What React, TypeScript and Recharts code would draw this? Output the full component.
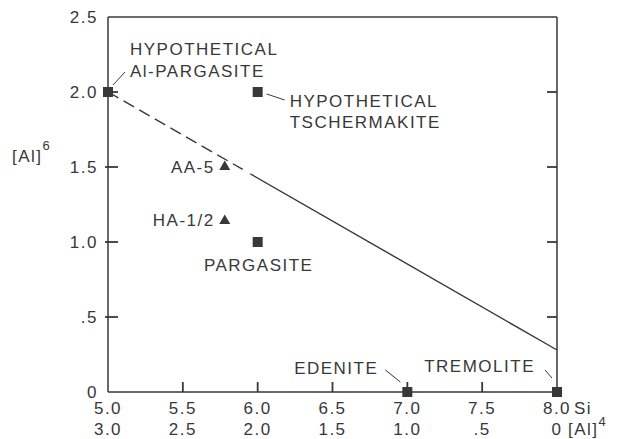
import React from 'react';
import { ScatterChart, Scatter, XAxis, YAxis, ReferenceLine } from 'recharts';

// axis ticks
const siTicks = [5.0, 5.5, 6.0, 6.5, 7.0, 7.5, 8.0];
const siTickLabels = ['5.0', '5.5', '6.0', '6.5', '7.0', '7.5', '8.0'];
const alIVTickLabels = ['3.0', '2.5', '2.0', '1.5', '1.0', '.5', '0'];
const alVITicks = [0, 0.5, 1.0, 1.5, 2.0, 2.5];
const alVITickLabels = ['0', '.5', '1.0', '1.5', '2.0', '2.5'];
const innerSiTicks = [5.5, 6.0, 6.5, 7.0, 7.5];
const innerAlTicks = [0.5, 1.0, 1.5, 2.0];

// amphibole compositions
const mineralIds = ['alPargasite', 'tschermakite', 'aa5', 'ha12', 'pargasite', 'edenite', 'tremolite'];
const mineralLabels = [
  ['HYPOTHETICAL', 'Al-PARGASITE'],
  ['HYPOTHETICAL', 'TSCHERMAKITE'],
  ['AA-5'],
  ['HA-1/2'],
  ['PARGASITE'],
  ['EDENITE'],
  ['TREMOLITE'],
];
const mineralSi = [5.0, 6.0, 5.78, 5.78, 6.0, 7.0, 8.0];
const mineralAlVI = [2.0, 2.0, 1.51, 1.15, 1.0, 0, 0];
const mineralMarkers = ['square', 'square', 'triangle', 'triangle', 'square', 'square', 'square'];

// limiting line
const dashedLineSi = [5.0, 5.9];
const dashedLineAlVI = [2.0, 1.484];
const solidLineSi = [5.95, 8.0];
const solidLineAlVI = [1.455, 0.28];

const INK = '#383838';
const FONT = "'Liberation Sans', Arial, sans-serif";
const textProps = { fill: INK, fontFamily: FONT, fontSize: 17, letterSpacing: 1.5 };

const labelStyle: Record<string, { dx: number; dy: number[]; anchor: 'start' | 'middle' | 'end'; leader?: number[] }> = {
  alPargasite: { dx: 22, dy: [-37, -15], anchor: 'start', leader: [5, -7, 17, -20] },
  tschermakite: { dx: 32, dy: [15, 36], anchor: 'start', leader: [9, 2, 27, 8] },
  aa5: { dx: -10, dy: [7], anchor: 'end' },
  ha12: { dx: -10, dy: [6], anchor: 'end' },
  pargasite: { dx: 1, dy: [29], anchor: 'middle' },
  edenite: { dx: -29, dy: [-18], anchor: 'end', leader: [-22, -22, -7, -10] },
  tremolite: { dx: -22, dy: [-20], anchor: 'end', leader: [-12, -22, -5, -14] },
};

const points = mineralIds.map((id, i) => ({
  id,
  si: mineralSi[i],
  al: mineralAlVI[i],
  marker: mineralMarkers[i],
  lines: mineralLabels[i],
}));

const MineralPoint = (props: any) => {
  const { cx, cy, payload } = props;
  const st = labelStyle[payload.id];
  return (
    <g>
      {payload.marker === 'square' ? (
        <rect x={cx - 5} y={cy - 5} width={10} height={10} fill={INK} />
      ) : (
        <path d={`M${cx},${cy - 5} L${cx + 5.5},${cy + 4.5} L${cx - 5.5},${cy + 4.5} Z`} fill={INK} />
      )}
      {st.leader && (
        <line
          x1={cx + st.leader[0]}
          y1={cy + st.leader[1]}
          x2={cx + st.leader[2]}
          y2={cy + st.leader[3]}
          stroke={INK}
          strokeWidth={1}
        />
      )}
      {payload.lines.map((t: string, k: number) => (
        <text key={k} x={cx + st.dx} y={cy + st.dy[k]} textAnchor={st.anchor} {...textProps}>
          {t}
        </text>
      ))}
    </g>
  );
};

const XTick = (props: any) => {
  const { x, y, index } = props;
  const last = index === siTicks.length - 1;
  return (
    <g>
      <text x={x} y={y + 22} textAnchor="middle" {...textProps}>
        {siTickLabels[index]}
      </text>
      <text x={x} y={y + 43} textAnchor="middle" {...textProps}>
        {alIVTickLabels[index]}
      </text>
      {last && (
        <>
          <text x={x + 17} y={y + 22} {...textProps}>Si</text>
          <text x={x + 11} y={y + 43} {...textProps}>
            [Al]<tspan fontSize={13} dy={-9}>4</tspan>
          </text>
        </>
      )}
    </g>
  );
};

const YTick = (props: any) => {
  const { x, y, index } = props;
  return (
    <text x={x - 10} y={y + 6} textAnchor="end" {...textProps}>
      {alVITickLabels[index]}
    </text>
  );
};

// short inward tick stubs on the frame
const HStubs = (props: any) => {
  const { x1, x2, y1 } = props;
  const l = Math.min(x1, x2);
  const r = Math.max(x1, x2);
  return (
    <g>
      <path d={`M${l - 3},${y1}H${l + 10}`} stroke={INK} strokeWidth={1.8} fill="none" />
      <path d={`M${r - 10},${y1}H${r}`} stroke={INK} strokeWidth={1.8} fill="none" />
    </g>
  );
};

const VStub = (props: any) => {
  const { x1, y1, y2 } = props;
  const b = Math.max(y1, y2);
  return <path d={`M${x1},${b - 10}V${b}`} stroke={INK} strokeWidth={1.8} fill="none" />;
};

const YTitle = () => (
  <text x={12} y={162} {...textProps}>
    [Al]<tspan fontSize={13} dy={-12}>6</tspan>
  </text>
);

export default function App() {
  return (
    <div style={{ position: 'absolute', left: 0, top: 0, background: '#fff' }}>
      <ScatterChart width={617} height={439} margin={{ top: 17, right: 60, bottom: 0, left: 0 }}>
        <XAxis
          type="number"
          dataKey="si"
          domain={[5, 8]}
          ticks={siTicks}
          height={47}
          tickSize={0}
          tickMargin={0}
          tickLine={false}
          tick={<XTick />}
          stroke={INK}
          strokeWidth={1.5}
          interval={0}
        />
        <YAxis
          type="number"
          dataKey="al"
          domain={[0, 2.5]}
          ticks={alVITicks}
          width={108}
          tickSize={0}
          tickMargin={0}
          tickLine={false}
          tick={<YTick />}
          stroke={INK}
          strokeWidth={1.5}
          interval={0}
          label={<YTitle />}
        />
        <ReferenceLine y={2.5} stroke={INK} strokeWidth={1.5} />
        <ReferenceLine x={8} stroke={INK} strokeWidth={1.5} />
        {innerAlTicks.map((v) => (
          <ReferenceLine key={`h${v}`} y={v} shape={<HStubs />} />
        ))}
        {innerSiTicks.map((v) => (
          <ReferenceLine key={`v${v}`} x={v} shape={<VStub />} />
        ))}
        <ReferenceLine
          segment={[
            { x: dashedLineSi[0], y: dashedLineAlVI[0] },
            { x: dashedLineSi[1], y: dashedLineAlVI[1] },
          ]}
          stroke={INK}
          strokeWidth={1.4}
          strokeDasharray="12 6"
        />
        <ReferenceLine
          segment={[
            { x: solidLineSi[0], y: solidLineAlVI[0] },
            { x: solidLineSi[1], y: solidLineAlVI[1] },
          ]}
          stroke={INK}
          strokeWidth={1.4}
        />
        <Scatter data={points} dataKey="al" shape={<MineralPoint />} isAnimationActive={false} />
      </ScatterChart>
    </div>
  );
}
